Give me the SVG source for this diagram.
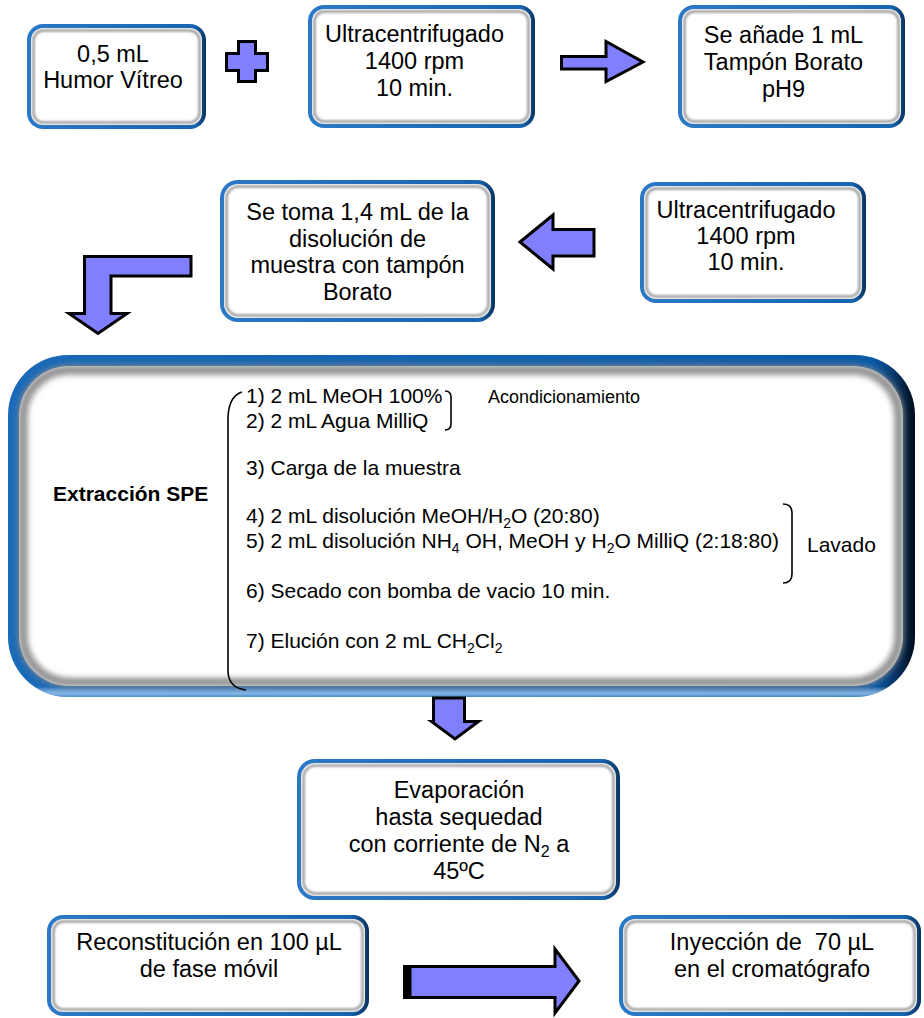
<svg xmlns="http://www.w3.org/2000/svg" width="924" height="1018" viewBox="0 0 924 1018">
  <defs>
    <linearGradient id="rim" x1="0" y1="0" x2="1" y2="0">
      <stop offset="0" stop-color="#2a78c6"/>
      <stop offset="0.94" stop-color="#1664b2"/>
      <stop offset="1" stop-color="#0a335e"/>
    </linearGradient>
    <linearGradient id="rimBig" x1="0" y1="0" x2="1" y2="0">
      <stop offset="0" stop-color="#1a6ab8"/>
      <stop offset="0.955" stop-color="#0b5aa6"/>
      <stop offset="0.975" stop-color="#073a70"/>
      <stop offset="1" stop-color="#000c18"/>
    </linearGradient>
    <linearGradient id="rimGlow" x1="0" y1="0" x2="0" y2="1">
      <stop offset="0" stop-color="#ffffff" stop-opacity="0"/>
      <stop offset="0.97" stop-color="#ffffff" stop-opacity="0"/>
      <stop offset="0.99" stop-color="#9cc8f0" stop-opacity="0.8"/>
      <stop offset="1" stop-color="#9cc8f0" stop-opacity="0.4"/>
    </linearGradient>
    <filter id="soft" x="-10%" y="-10%" width="120%" height="120%">
      <feGaussianBlur stdDeviation="0.9"/>
    </filter>
    <filter id="softBig" x="-5%" y="-10%" width="110%" height="120%">
      <feGaussianBlur stdDeviation="3"/>
    </filter>
  </defs>
  <style>
    .rim { fill: url(#rim); }
    .rimBig { fill: url(#rimBig); }
    .face { fill: #ffffff; }
    .bevel { fill: none; stroke: #999999; stroke-width: 2.5; filter: url(#soft); }
    .bevelBig { fill: none; stroke: #8a8a8a; stroke-width: 9; filter: url(#softBig); }
    .lbl { font-family: "Liberation Sans", Arial, sans-serif; font-size: 23.5px; fill: #000; text-anchor: middle; }
    .step { font-family: "Liberation Sans", Arial, sans-serif; font-size: 21px; fill: #000; }
    .note { font-family: "Liberation Sans", Arial, sans-serif; font-size: 18px; fill: #000; }
    .title { font-family: "Liberation Sans", Arial, sans-serif; font-size: 21px; font-weight: bold; fill: #000; }
    .arrow { fill: #8080ff; stroke: #000; stroke-width: 3; stroke-linejoin: miter; }
    .brace { fill: none; stroke: #000; stroke-width: 1.6; }
  </style>

  <!-- top row -->
  <g id="humor">
    <rect class="rim" x="27" y="24" width="179" height="105" rx="16"/>
    <rect class="face" x="31" y="28" width="171" height="97" rx="12"/>
    <rect class="bevel" x="33.5" y="30.5" width="166" height="92" rx="10"/>
    <text class="lbl" x="113" y="62">0,5 mL</text>
    <text class="lbl" x="113" y="88">Humor Vítreo</text>
  </g>

  <g id="ultra1">
    <rect class="rim" x="308" y="5" width="227" height="123" rx="16"/>
    <rect class="face" x="312" y="9" width="219" height="115" rx="12"/>
    <rect class="bevel" x="314.5" y="11.5" width="214" height="110" rx="10"/>
    <text class="lbl" x="414.5" y="42">Ultracentrifugado</text>
    <text class="lbl" x="414.5" y="69">1400 rpm</text>
    <text class="lbl" x="414.5" y="96">10 min.</text>
  </g>

  <g id="borato">
    <rect class="rim" x="678" y="5" width="227" height="123" rx="16"/>
    <rect class="face" x="682" y="9" width="219" height="115" rx="12"/>
    <rect class="bevel" x="684.5" y="11.5" width="214" height="110" rx="10"/>
    <text class="lbl" x="783.5" y="43">Se añade 1 mL</text>
    <text class="lbl" x="783.5" y="70">Tampón Borato</text>
    <text class="lbl" x="783.5" y="97">pH9</text>
  </g>

  <!-- second row -->
  <g id="toma">
    <rect class="rim" x="220" y="180" width="275" height="142" rx="18"/>
    <rect class="face" x="224" y="184" width="267" height="134" rx="14"/>
    <rect class="bevel" x="226.5" y="186.5" width="262" height="129" rx="12"/>
    <text class="lbl" x="357.5" y="220">Se toma 1,4 mL de la</text>
    <text class="lbl" x="357.5" y="246.5">disolución de</text>
    <text class="lbl" x="357.5" y="273">muestra con tampón</text>
    <text class="lbl" x="357.5" y="299.5">Borato</text>
  </g>

  <g id="ultra2">
    <rect class="rim" x="640" y="182" width="226" height="121" rx="16"/>
    <rect class="face" x="644" y="186" width="218" height="113" rx="12"/>
    <rect class="bevel" x="646.5" y="188.5" width="213" height="108" rx="10"/>
    <text class="lbl" x="746" y="218">Ultracentrifugado</text>
    <text class="lbl" x="746" y="244">1400 rpm</text>
    <text class="lbl" x="746" y="270">10 min.</text>
  </g>

  <!-- solid phase extraction panel -->
  <g id="spe">
    <rect class="rimBig" x="8" y="355" width="907" height="342" rx="60"/>
    <rect fill="url(#rimGlow)" x="8" y="355" width="907" height="342" rx="60"/>
    <rect class="face" x="19" y="366" width="884" height="320" rx="50"/>
    <rect class="bevelBig" x="23" y="370" width="876" height="312" rx="46"/>
    <rect class="face" x="34" y="382" width="854" height="292" rx="38" filter="url(#softBig)"/>
    <text class="title" x="53" y="501">Extracción SPE</text>
    <path class="brace" d="M 242 392 Q 229 396 228 417 L 228 672 Q 229 688 246 690"/>
    <text class="step" x="246" y="403">1) 2 mL MeOH 100%</text>
    <text class="step" x="246" y="428">2) 2 mL Agua MilliQ</text>
    <path class="brace" d="M 445 391 Q 451 391 451 397 L 451 424 Q 451 430 445 430"/>
    <text class="note" x="488" y="403">Acondicionamiento</text>
    <text class="step" x="246" y="475">3) Carga de la muestra</text>
    <text class="step" x="246" y="523">4) 2 mL disolución MeOH/H<tspan font-size="14" dy="5">2</tspan><tspan dy="-5">O (20:80)</tspan></text>
    <text class="step" x="246" y="548">5) 2 mL disolución NH<tspan font-size="14" dy="5">4</tspan><tspan dy="-5"> OH, MeOH y H</tspan><tspan font-size="14" dy="5">2</tspan><tspan dy="-5">O MilliQ (2:18:80)</tspan></text>
    <path class="brace" d="M 783 504 Q 792 504 792 513 L 792 574 Q 792 583 783 583"/>
    <text class="step" x="807" y="552">Lavado</text>
    <text class="step" x="246" y="598">6) Secado con bomba de vacio 10 min.</text>
    <text class="step" x="246" y="648">7) Elución con 2 mL CH<tspan font-size="14" dy="5">2</tspan><tspan dy="-5">Cl</tspan><tspan font-size="14" dy="5">2</tspan></text>
  </g>

  <g id="evaporacion">
    <rect class="rim" x="297" y="759" width="323" height="141" rx="18"/>
    <rect class="face" x="301" y="763" width="315" height="133" rx="14"/>
    <rect class="bevel" x="303.5" y="765.5" width="310" height="128" rx="12"/>
    <text class="lbl" x="459" y="798">Evaporación</text>
    <text class="lbl" x="459" y="825">hasta sequedad</text>
    <text class="lbl" x="459" y="852">con corriente de N<tspan font-size="16" dy="5">2</tspan><tspan dy="-5"> a</tspan></text>
    <text class="lbl" x="459" y="879">45ºC</text>
  </g>

  <!-- bottom row -->
  <g id="reconstitucion">
    <rect class="rim" x="47" y="915" width="322" height="101" rx="16"/>
    <rect class="face" x="51" y="919" width="314" height="93" rx="12"/>
    <rect class="bevel" x="53.5" y="921.5" width="309" height="88" rx="10"/>
    <text class="lbl" x="209" y="950">Reconstitución en 100 µL</text>
    <text class="lbl" x="209" y="977">de fase móvil</text>
  </g>

  <g id="inyeccion">
    <rect class="rim" x="619" y="915" width="302" height="101" rx="16"/>
    <rect class="face" x="623" y="919" width="294" height="93" rx="12"/>
    <rect class="bevel" x="625.5" y="921.5" width="289" height="88" rx="10"/>
    <text class="lbl" x="772" y="950" xml:space="preserve">Inyección de  70 µL</text>
    <text class="lbl" x="772" y="977">en el cromatógrafo</text>
  </g>

  <!-- connectors -->
  <g id="connectors">
    <polygon class="arrow" points="238.5,41.5 255.5,41.5 255.5,53.5 267.5,53.5 267.5,70.5 255.5,70.5 255.5,81.5 238.5,81.5 238.5,70.5 226.5,70.5 226.5,53.5 238.5,53.5"/>
    <path class="arrow" d="M 561.5 56.5 L 606 56.5 L 606 41.5 L 643 62 L 606 81.5 L 606 69 L 561.5 69 Z"/>
    <path class="arrow" d="M 520 242 L 553 215 L 553 229.5 L 594 229.5 L 594 256 L 553 256 L 553 269 Z"/>
    <path class="arrow" d="M 191 256.5 L 84.5 256.5 L 84.5 313.5 L 69 313.5 L 98 333.5 L 127 313.5 L 111 313.5 L 111 276 L 191 276 Z"/>
    <path class="arrow" d="M 433.5 698 L 464.5 698 L 464.5 721.5 L 478.5 721.5 L 455 739 L 431.5 721.5 L 433.5 721.5 Z"/>
    <rect x="403" y="965" width="9" height="34" fill="#000"/>
    <path class="arrow" d="M 410 966.5 L 555 966.5 L 555 949 L 579 981 L 555 1013 L 555 997.5 L 410 997.5 Z"/>
  </g>
</svg>
